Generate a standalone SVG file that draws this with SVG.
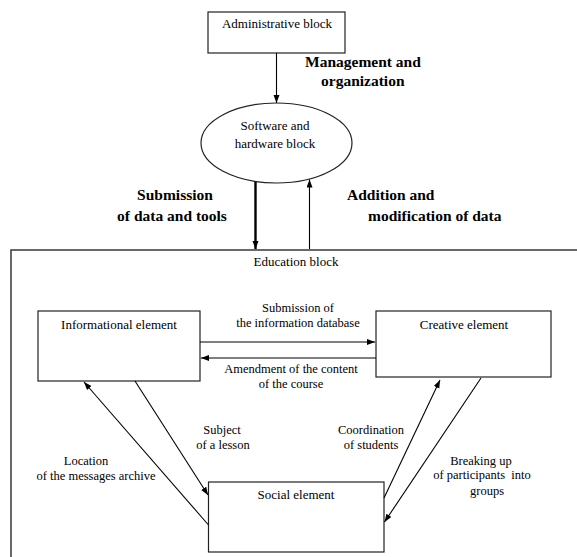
<svg xmlns="http://www.w3.org/2000/svg" width="577" height="557" viewBox="0 0 577 557">
<defs>
<marker id="ah" markerUnits="userSpaceOnUse" markerWidth="9" markerHeight="7" refX="8" refY="3" orient="auto">
<path d="M0,0 L8,3 L0,6 z" fill="#000"/>
</marker>
</defs>
<style>
.box{fill:#fff;stroke:#222;stroke-width:1.2}
.t{font-size:13px;fill:#000;text-anchor:middle}
.lb{font-size:12.5px;fill:#000;text-anchor:middle}
.big{font-size:15.5px;font-weight:bold;fill:#000}
.c{stroke:#000;stroke-width:1.1;fill:none;marker-end:url(#ah)}
</style>
<rect width="577" height="557" fill="#fff"/>
<g font-family="Liberation Serif, Times New Roman, Tinos, DejaVu Serif, serif">
<g id="education-block">
<rect x="11" y="250" width="600" height="400" fill="none" stroke="#444" stroke-width="1.6"/>
<text class="t" x="296" y="266">Education block</text>
</g>

<g id="administrative-block">
<rect class="box" x="208" y="12" width="137" height="41"/>
<text class="t" x="277" y="28">Administrative block</text>
</g>

<g id="software-hardware-block">
<ellipse class="box" cx="276.5" cy="143" rx="75.5" ry="40"/>
<text class="t" x="275" y="130">Software and</text>
<text class="t" x="275" y="148">hardware block</text>
</g>

<g id="informational-element">
<rect class="box" x="38" y="311" width="162" height="70"/>
<text class="t" x="119" y="329">Informational element</text>
</g>

<g id="creative-element">
<rect class="box" x="376" y="311" width="175" height="66"/>
<text class="t" x="464" y="329">Creative element</text>
</g>

<g id="social-element">
<rect class="box" x="208.5" y="482" width="175.5" height="70"/>
<text class="t" x="296" y="499">Social element</text>
</g>

<g id="connectors">
<line class="c" x1="276.5" y1="53" x2="276.5" y2="103"/>
<line class="c" x1="255.5" y1="181.5" x2="255.5" y2="249" style="stroke-width:2.4"/>
<line class="c" x1="309.5" y1="249" x2="309.5" y2="179.5"/>
<line class="c" x1="200" y1="342" x2="375" y2="342"/>
<line class="c" x1="376" y1="358" x2="201" y2="358"/>
<line class="c" x1="208.5" y1="525" x2="84" y2="382"/>
<line class="c" x1="135" y1="381" x2="208" y2="495"/>
<line class="c" x1="384" y1="498" x2="440" y2="380"/>
<line class="c" x1="481" y1="378" x2="384.5" y2="522"/>
</g>

<g id="labels">
<text class="big" x="305" y="67">Management and</text>
<text class="big" x="321" y="86">organization</text>
<text class="big" x="175" y="200" text-anchor="middle">Submission</text>
<text class="big" x="172" y="221" text-anchor="middle">of data and tools</text>
<text class="big" x="347" y="200">Addition and</text>
<text class="big" x="368" y="221">modification of data</text>
<text class="lb" x="298" y="312">Submission of</text>
<text class="lb" x="298" y="327">the information database</text>
<text class="lb" x="291" y="373">Amendment of the content</text>
<text class="lb" x="291" y="388">of the course</text>
<text class="lb" x="222" y="434">Subject</text>
<text class="lb" x="223" y="449">of a lesson</text>
<text class="lb" x="371" y="434">Coordination</text>
<text class="lb" x="371" y="449">of students</text>
<text class="lb" x="86" y="465">Location</text>
<text class="lb" x="96" y="480">of the messages archive</text>
<text class="lb" x="481" y="465">Breaking up</text>
<text class="lb" x="482" y="479" xml:space="preserve">of participants  into</text>
<text class="lb" x="487" y="495">groups</text>
</g>
</g>
</svg>
